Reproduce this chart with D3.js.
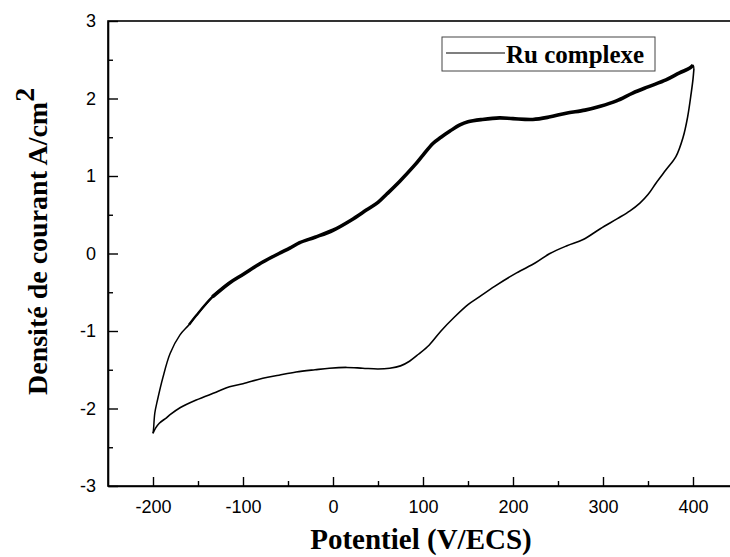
<!DOCTYPE html>
<html>
<head>
<meta charset="utf-8">
<script src="https://cdn.jsdelivr.net/npm/d3@7/dist/d3.min.js"></script>
<style>
  html, body { margin: 0; padding: 0; background: #fff; }
  svg { display: block; }
</style>
</head>
<body>
<svg id="chart" width="730" height="557"></svg>
<script>
// ---- Data ----
const seriesName = "Ru complexe";
const xTickValues = [-200, -100, 0, 100, 200, 300, 400];
const xMinorTicks = [-150, -50, 50, 150, 250, 350];
const yTickValues = [-3, -2, -1, 0, 1, 2, 3];
const yMinorTicks = [-2.5, -1.5, -0.5, 0.5, 1.5, 2.5];

// forward (cathodic→anodic) scan, lower branch
const forwardPotential = [-200, -197, -193, -185, -181, -170, -152, -130, -115, -100, -78, -60, -41, -20, -4, 15, 33, 50, 63, 75, 85, 95, 107, 120, 135, 150, 160, 180, 204, 225, 241, 260, 278, 297, 316, 330, 341, 350, 359, 370, 381, 389, 394, 398, 400, 401];
const forwardCurrent   = [-2.32, -2.25, -2.19, -2.12, -2.08, -1.99, -1.89, -1.79, -1.72, -1.68, -1.61, -1.57, -1.53, -1.50, -1.48, -1.47, -1.48, -1.49, -1.48, -1.45, -1.39, -1.30, -1.18, -1.00, -0.82, -0.66, -0.58, -0.42, -0.25, -0.12, 0.0, 0.10, 0.18, 0.32, 0.45, 0.55, 0.65, 0.76, 0.91, 1.08, 1.25, 1.50, 1.76, 2.07, 2.25, 2.38];

// reverse scan, upper branch
const reversePotential = [401, 400, 396, 385, 370, 350, 333, 315, 297, 280, 259, 240, 222, 200, 185, 166, 150, 141, 130, 120, 111, 100, 90, 74, 60, 50, 37, 20, 0, -20, -37, -48, -60, -78, -100, -115, -134, -152, -160, -170, -181, -189, -195, -198, -199.5, -200];
const reverseCurrent   = [2.38, 2.43, 2.39, 2.33, 2.24, 2.15, 2.07, 1.97, 1.90, 1.85, 1.81, 1.76, 1.73, 1.74, 1.75, 1.73, 1.70, 1.66, 1.58, 1.50, 1.42, 1.27, 1.13, 0.93, 0.77, 0.66, 0.56, 0.43, 0.30, 0.21, 0.14, 0.07, 0.0, -0.11, -0.27, -0.38, -0.56, -0.80, -0.92, -1.05, -1.29, -1.60, -1.89, -2.06, -2.28, -2.32];

// ---- Chart ----
const svg = d3.select("#chart");
const mLeft = 108, mRight = 738, mTop = 21, mBottom = 486;

const x = d3.scaleLinear().domain([-250, 450]).range([mLeft, mRight]);
const y = d3.scaleLinear().domain([-3, 3]).range([mBottom, mTop]);

const tickFont = "'Liberation Sans', Arial, sans-serif";
const titleFont = "'Liberation Serif', 'Times New Roman', serif";
const fmt = d => String(d);

// frame
svg.append("rect")
  .attr("x", mLeft).attr("y", mTop)
  .attr("width", mRight - mLeft).attr("height", mBottom - mTop)
  .attr("fill", "none").attr("stroke", "#000").attr("stroke-width", 1.6);

// bottom axis (ticks inward)
const xAxis = d3.axisBottom(x).tickValues(xTickValues).tickSizeInner(-9).tickSizeOuter(0).tickPadding(14).tickFormat(fmt);
const gx = svg.append("g").attr("transform", `translate(0,${mBottom})`).call(xAxis);
gx.select(".domain").attr("stroke-width", 1.6);
gx.selectAll(".tick line").attr("stroke-width", 1.4);
gx.selectAll("text").attr("font-family", tickFont).attr("font-size", 18).attr("fill", "#000");

const xMinor = d3.axisBottom(x).tickValues(xMinorTicks).tickSize(-5).tickFormat("");
const gxm = svg.append("g").attr("transform", `translate(0,${mBottom})`).call(xMinor);
gxm.select(".domain").remove();
gxm.selectAll(".tick line").attr("stroke-width", 1.4);

// left axis (ticks inward)
const yAxis = d3.axisLeft(y).tickValues(yTickValues).tickSizeInner(-10).tickSizeOuter(0).tickPadding(12).tickFormat(fmt);
const gy = svg.append("g").attr("transform", `translate(${mLeft},0)`).call(yAxis);
gy.select(".domain").attr("stroke-width", 1.6);
gy.selectAll(".tick line").attr("stroke-width", 1.4);
gy.selectAll("text").attr("font-family", tickFont).attr("font-size", 18).attr("fill", "#000");

const yMinor = d3.axisLeft(y).tickValues(yMinorTicks).tickSize(-5).tickFormat("");
const gym = svg.append("g").attr("transform", `translate(${mLeft},0)`).call(yMinor);
gym.select(".domain").remove();
gym.selectAll(".tick line").attr("stroke-width", 1.4);

// curves
const line = d3.line().x(d => x(d[0])).y(d => y(d[1])).curve(d3.curveCatmullRom.alpha(0.5));
const forward = forwardPotential.map((p, i) => [p, forwardCurrent[i]]);
const reverse = reversePotential.map((p, i) => [p, reverseCurrent[i]]);
const plot = svg.append("g");
plot.append("path").datum(forward).attr("d", line)
  .attr("fill", "none").attr("stroke", "#000").attr("stroke-width", 1.6).attr("stroke-linejoin", "round");
// noisy band of the reverse scan rendered thicker; steep part near -200 is thin
plot.append("path").datum(reverse.filter(d => d[0] <= -130)).attr("d", line)
  .attr("fill", "none").attr("stroke", "#000").attr("stroke-width", 1.5).attr("stroke-linejoin", "round");
plot.append("path").datum(reverse.filter(d => d[0] >= -160 && d[0] <= -110)).attr("d", line)
  .attr("fill", "none").attr("stroke", "#000").attr("stroke-width", 2.4).attr("stroke-linejoin", "round");
plot.append("path").datum(reverse.filter(d => d[0] >= -134 && d[0] <= 400)).attr("d", line)
  .attr("fill", "none").attr("stroke", "#000").attr("stroke-width", 3.6).attr("stroke-linejoin", "round");
plot.append("path").datum(reverse.filter(d => d[0] >= 396)).attr("d", line)
  .attr("fill", "none").attr("stroke", "#000").attr("stroke-width", 1.4);

// legend
const lg = svg.append("g");
lg.append("rect").attr("x", 442).attr("y", 37).attr("width", 213).attr("height", 34)
  .attr("fill", "#fff").attr("stroke", "#444").attr("stroke-width", 1);
lg.append("line").attr("x1", 446).attr("x2", 505).attr("y1", 53).attr("y2", 53)
  .attr("stroke", "#000").attr("stroke-width", 1.2);
lg.append("text").attr("x", 506).attr("y", 63).text(seriesName)
  .attr("font-family", titleFont).attr("font-weight", "bold").attr("font-size", 25).attr("fill", "#000");

// axis titles
svg.append("text").attr("x", (mLeft + mRight) / 2 - 2).attr("y", 549).attr("text-anchor", "middle")
  .attr("font-family", titleFont).attr("font-weight", "bold").attr("font-size", 29).attr("fill", "#000")
  .text("Potentiel (V/ECS)");

const yt = svg.append("text").attr("transform", "translate(47,395) rotate(-90)")
  .attr("font-family", titleFont).attr("font-weight", "bold").attr("font-size", 28).attr("fill", "#000");
yt.append("tspan").text("Densité de courant A/cm");
yt.append("tspan").attr("dy", -13).text("2");
</script>
</body>
</html>
